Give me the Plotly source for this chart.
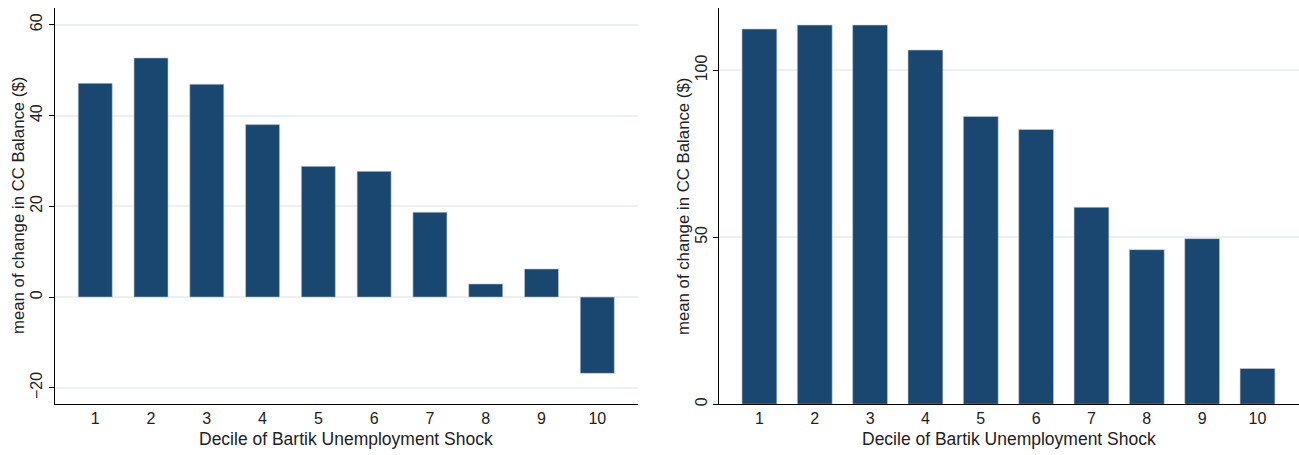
import plotly.graph_objects as go

# Mean change in credit-card balance by decile of the Bartik unemployment shock
deciles = [1, 2, 3, 4, 5, 6, 7, 8, 9, 10]
tick_labels = ["1", "2", "3", "4", "5", "6", "7", "8", "9", "10"]
cc_change_a = [47.1, 52.7, 46.9, 38.0, 28.8, 27.7, 18.7, 2.9, 6.2, -16.8]
cc_change_b = [112.4, 113.6, 113.6, 106.1, 86.2, 82.3, 59.0, 46.3, 49.6, 10.7]

W, H = 1299, 455
BAR = "#1a476f"
GRID = "#eaf1f3"
FONT = "Liberation Sans, Arial, Helvetica, sans-serif"

fig = go.Figure()
fig.add_trace(go.Bar(x=deciles, y=cc_change_a, width=0.61, marker_color=BAR,
                     marker_line=dict(width=0.6, color="#c4ced8"),
                     xaxis="x", yaxis="y"))
fig.add_trace(go.Bar(x=deciles, y=cc_change_b, width=0.63, marker_color=BAR,
                     marker_line=dict(width=0.6, color="#c4ced8"),
                     xaxis="x2", yaxis="y2"))

ydom = [(H - 406) / H, (H - 8) / H]
axis_common = dict(showline=True, linecolor="black", linewidth=1,
                   tickfont=dict(size=16, color="#222", family=FONT))

fig.update_layout(
    width=W, height=H,
    margin=dict(l=0, r=0, t=0, b=0),
    paper_bgcolor="white", plot_bgcolor="white",
    showlegend=False,
    font=dict(family=FONT, color="#222"),
    xaxis=dict(domain=[54.5 / W, 638 / W], range=[0.27, 10.73],
               tickvals=deciles, ticktext=tick_labels, ticks="",
               showgrid=False, zeroline=False, anchor="y", **axis_common),
    yaxis=dict(domain=ydom, range=[-23.6, 63.7], tickvals=[-20, 0, 20, 40, 60],
               ticktext=["\u221220", "0", "20", "40", "60"],
               tickangle=-90, ticks="outside", ticklen=5, tickcolor="black",
               showgrid=True, gridcolor=GRID, gridwidth=1.5, zeroline=False,
               anchor="x", **axis_common),
    xaxis2=dict(domain=[719 / W, 1.0], range=[0.27, 10.75],
                tickvals=deciles, ticktext=tick_labels, ticks="",
                showgrid=False, zeroline=False, anchor="y2", **axis_common),
    yaxis2=dict(domain=ydom, range=[0, 118.7], tickvals=[0, 50, 100],
                tickangle=-90, ticks="outside", ticklen=5, tickcolor="black",
                showgrid=True, gridcolor=GRID, gridwidth=1.5, zeroline=False,
                anchor="x2", **axis_common),
)

xtitle = "Decile of Bartik Unemployment Shock"
ytitle = "mean of change in CC Balance ($)"
for xc in [(54.5 + 638) / 2 / W, (719 + W) / 2 / W]:
    fig.add_annotation(text=xtitle, x=xc, y=(H - 441) / H, xref="paper", yref="paper",
                       xanchor="center", yanchor="middle",
                       showarrow=False, font=dict(size=17.5, color="#222", family=FONT))
for xc in [18 / W, 683 / W]:
    fig.add_annotation(text=ytitle, x=xc, y=(H - 207) / H, xref="paper", yref="paper",
                       xanchor="center", yanchor="middle",
                       showarrow=False, textangle=-90,
                       font=dict(size=16.8, color="#222", family=FONT))

fig.write_html("out.html")
